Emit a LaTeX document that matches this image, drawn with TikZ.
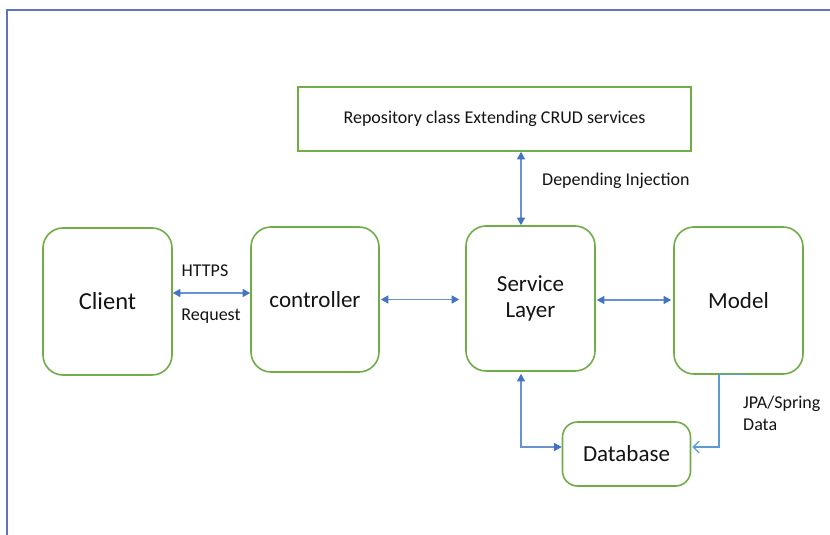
\documentclass[tikz,border=0pt]{standalone}
\usepackage{fontspec}
\setmainfont{Carlito}
\usetikzlibrary{arrows.meta,calc}
\definecolor{boxgreen}{RGB}{112,173,71}
\definecolor{arrblue}{RGB}{68,114,196}
\definecolor{arrline}{RGB}{105,145,212}
\definecolor{arrlight}{RGB}{91,155,213}
\definecolor{framec}{RGB}{95,115,190}
\definecolor{txt}{RGB}{20,20,20}
\tikzset{
  box/.style={draw=boxgreen, line width=1.6pt, rounded corners=20pt, align=center, text=txt, inner sep=0pt, font=\fontsize{23}{27}\selectfont},
  sqbox/.style={draw=boxgreen, line width=1.6pt, align=center, text=txt, inner sep=0pt, font=\fontsize{18}{21}\selectfont},
  lbl/.style={text=txt, inner sep=0pt, font=\fontsize{18}{21.5}\selectfont},
  conn/.style={draw=arrline, line width=1.2pt},
  biarrow/.style={conn, {Triangle[length=7.5pt,width=8pt,color=arrblue]}-{Triangle[length=7.5pt,width=8pt,color=arrblue]}},
  openarr/.style={draw=arrlight, line width=1.3pt, -{Straight Barb[length=6pt,width=12pt]}}
}
\begin{document}
\begin{tikzpicture}[x=1pt,y=-1pt]
\useasboundingbox (0,0) rectangle (830,535);
\fill[white] (0,0) rectangle (830,535);
\draw[framec, line width=1.3pt] (7,535) -- (7,10) -- (830,10);

\node[sqbox, minimum width=393pt, minimum height=64pt] (repo) at (494.5,119) {Repository class Extending CRUD services};
\node[box, minimum width=129pt, minimum height=147pt, font=\fontsize{24.5}{28}\selectfont] (client) at (107.5,301.5) {Client};
\node[box, minimum width=128pt, minimum height=145pt] (ctrl) at (315,299.5) {controller};
\node[box, minimum width=129pt, minimum height=145pt] (service) at (530.5,298.5) {Service\\[-1pt]Layer};
\node[box, minimum width=129pt, minimum height=147pt] (model) at (738.5,300.5) {Model};
\node[box, minimum width=128pt, minimum height=64pt, rounded corners=15pt] (db) at (626.5,454) {Database};

\node[lbl] (https) at (205,271) {HTTPS};
\node[lbl] (req) at (211,316) {Request};
\node[lbl, anchor=west] (dep) at (542,181) {Depending Injection};
\node[lbl, anchor=north west, align=left] (jpa) at (743,396) {JPA/Spring\\Data};

\draw[biarrow] ([yshift=8.5pt]client.east) -- ([yshift=6.5pt]ctrl.west);
\draw[biarrow, shorten >=6pt] ([xshift=1pt]ctrl.east) -- (ctrl.east -| service.west);
\draw[biarrow, shorten >=2pt, shorten <=1pt] ([yshift=-1.5pt]service.east) -- ([yshift=-1.5pt]service.east -| model.west);
\draw[biarrow] ([xshift=-9.5pt]service.north) -- ([xshift=-9.5pt]service.north |- repo.south);
\draw[biarrow] ([xshift=-9.5pt,yshift=-2pt]service.south) |- ([yshift=7pt]db.west);
\coordinate (mstart) at ([xshift=7.5pt]model.south);
\draw[openarr] (mstart) -- ([xshift=-19.5pt]model.south) |- ([yshift=7pt,xshift=1pt]db.east);
\end{tikzpicture}
\end{document}
